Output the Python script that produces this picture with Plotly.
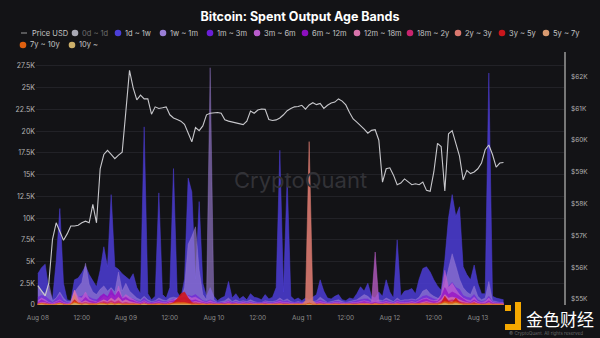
import pandas as pd
import plotly.graph_objects as go

# Hourly timeline
hours = pd.date_range("2024-08-08 00:00", periods=128, freq="h")

# BTC price, thousands of USD
price_usd_k = [
    55.42, 55.25, 55.10, 55.50, 56.88, 57.40, 57.15, 56.85, 57.05, 57.30, 57.30, 57.32, 57.40, 57.45, 57.40, 57.98,
    57.40, 59.10, 59.55, 59.68, 59.55, 59.42, 59.53, 59.62, 60.90, 62.20, 61.65, 61.27, 61.42, 61.30, 61.30, 60.82,
    61.05, 61.00, 61.02, 61.05, 60.80, 60.70, 60.65, 60.60, 60.50, 60.25, 59.95, 60.40, 60.30, 60.45, 60.80, 60.85,
    60.86, 60.87, 60.85, 60.64, 60.60, 60.57, 60.53, 60.50, 60.49, 60.60, 60.92, 60.85, 60.95, 60.98, 60.97, 60.65,
    60.62, 60.64, 60.70, 60.80, 60.93, 61.00, 61.05, 61.06, 61.10, 60.98, 61.11, 61.18, 61.12, 61.16, 61.00, 61.10,
    61.17, 61.20, 61.30, 61.23, 61.11, 60.87, 60.67, 60.57, 60.47, 60.35, 60.22, 60.31, 60.33, 60.00, 58.68, 59.10,
    59.13, 58.90, 58.60, 58.65, 58.78, 58.70, 58.60, 58.63, 58.60, 58.68, 58.42, 58.39, 59.00, 59.90, 59.80, 58.40,
    60.20, 60.30, 59.90, 59.50, 58.75, 59.05, 58.95, 59.00, 59.10, 59.28, 59.70, 59.85, 59.55, 59.15, 59.28, 59.30,
]

# Spent output volume per age band, thousands of BTC
band_1d_1w = [
    3.6, 4.3, 4.7, 1.7, 0.6, 5.0, 11.1, 2.5, 0.6, 0.5, 2.9, 3.1, 3.7, 4.5, 3.5, 2.8,
    2.1, 4.0, 6.7, 4.4, 12.7, 4.4, 4.1, 3.6, 3.3, 2.9, 3.6, 2.0, 1.3, 20.5, 1.3, 0.6,
    1.0, 12.9, 1.2, 0.8, 2.0, 15.7, 1.5, 0.8, 3.0, 14.6, 13.0, 3.0, 11.9, 2.5, 1.0, 2.0,
    1.0, 0.5, 0.8, 1.0, 2.7, 0.8, 1.3, 0.7, 1.0, 0.6, 1.3, 0.9, 0.8, 0.6, 1.2, 0.7,
    0.9, 2.0, 17.8, 1.5, 14.6, 1.0, 0.6, 0.8, 0.5, 0.8, 0.6, 0.9, 1.2, 2.9, 1.6, 0.8,
    0.7, 1.0, 1.2, 0.6, 0.5, 0.8, 0.7, 1.3, 2.1, 1.6, 2.5, 1.0, 0.8, 1.5, 1.0, 2.9,
    1.5, 0.8, 7.5, 1.0, 1.6, 1.7, 1.9, 1.3, 3.0, 4.2, 4.4, 3.8, 2.9, 2.2, 1.7, 5.2,
    10.0, 12.7, 10.2, 11.3, 4.4, 3.5, 2.9, 4.6, 2.5, 1.3, 1.3, 26.7, 1.0, 0.8, 0.7, 0.6,
]
band_1w_1m = [
    2.1, 1.6, 1.3, 2.5, 0.5, 0.8, 1.5, 0.8, 0.4, 0.4, 1.5, 2.0, 2.6, 4.8, 2.4, 1.5,
    1.2, 1.8, 2.2, 1.6, 2.0, 1.5, 3.8, 1.6, 2.5, 1.6, 1.2, 0.8, 0.6, 1.0, 0.6, 0.4,
    0.5, 0.8, 0.6, 0.5, 0.8, 0.9, 0.8, 0.6, 2.0, 7.0, 7.9, 9.0, 4.0, 1.2, 0.6, 27.3,
    0.6, 0.3, 0.4, 0.5, 0.8, 0.4, 0.6, 0.4, 0.5, 0.4, 0.6, 0.4, 0.3, 0.3, 0.5, 0.4,
    0.4, 0.5, 0.8, 0.5, 0.7, 0.4, 0.3, 0.4, 0.3, 0.4, 0.5, 0.4, 0.5, 0.9, 0.6, 0.3,
    0.4, 0.5, 0.6, 0.4, 0.3, 0.4, 0.5, 0.6, 0.9, 1.2, 1.0, 0.6, 0.4, 0.6, 0.5, 0.8,
    0.6, 0.4, 0.8, 0.5, 0.6, 0.6, 0.7, 0.6, 0.9, 1.6, 1.8, 1.3, 1.0, 0.8, 0.7, 2.5,
    4.0, 5.9, 4.5, 3.0, 2.0, 1.5, 1.2, 2.2, 1.0, 0.6, 0.8, 2.7, 0.5, 0.4, 0.3, 0.3,
]
band_1m_3m = [
    0.9, 1.1, 1.0, 0.6, 0.3, 0.7, 1.2, 0.5, 0.3, 0.3, 0.8, 0.9, 1.0, 1.3, 0.9, 0.7,
    0.6, 0.9, 1.2, 1.0, 1.4, 1.1, 1.3, 0.9, 1.0, 0.8, 0.7, 0.5, 0.4, 0.8, 0.4, 0.3,
    0.4, 0.6, 0.4, 0.4, 0.5, 0.7, 0.6, 0.6, 0.8, 1.1, 1.0, 1.2, 0.8, 0.5, 0.4, 0.6,
    0.4, 0.3, 0.3, 0.3, 0.5, 0.3, 0.4, 0.3, 0.4, 0.3, 0.4, 0.3, 0.3, 0.3, 0.4, 0.3,
    0.3, 0.4, 0.6, 0.4, 0.5, 0.3, 0.3, 0.3, 0.3, 0.3, 0.3, 0.3, 0.4, 0.6, 0.4, 0.3,
    0.3, 0.4, 0.4, 0.3, 0.3, 0.3, 0.4, 0.5, 0.6, 0.7, 0.7, 0.4, 0.5, 0.4, 0.4, 0.6,
    0.4, 0.3, 0.6, 0.4, 0.5, 0.5, 0.6, 0.5, 0.7, 1.0, 1.1, 0.9, 0.7, 0.6, 0.8, 1.6,
    2.2, 2.6, 2.0, 1.8, 1.1, 0.9, 0.8, 1.2, 0.6, 0.4, 0.5, 1.0, 0.4, 0.3, 0.3, 0.2,
]
band_3m_6m = [
    0.5, 0.8, 0.6, 0.3, 0.2, 0.4, 0.6, 0.3, 0.2, 0.3, 1.7, 0.9, 0.8, 1.5, 0.7, 0.5,
    0.4, 0.6, 1.0, 0.8, 1.2, 0.9, 2.2, 0.8, 1.2, 0.9, 0.6, 0.4, 0.3, 0.5, 0.3, 0.2,
    0.3, 0.4, 0.3, 0.3, 0.5, 0.6, 0.8, 1.0, 1.2, 1.0, 0.8, 0.9, 0.6, 0.4, 0.3, 0.5,
    0.3, 0.2, 0.2, 0.3, 0.4, 0.2, 0.3, 0.2, 0.3, 0.2, 0.3, 0.2, 0.2, 0.2, 0.3, 0.2,
    0.2, 0.3, 0.4, 0.3, 0.3, 0.2, 0.2, 0.2, 0.2, 0.3, 0.2, 0.2, 0.3, 0.4, 0.3, 0.2,
    0.2, 0.3, 0.3, 0.2, 0.2, 0.2, 0.3, 0.3, 0.4, 0.5, 0.4, 0.3, 6.1, 0.4, 0.3, 0.4,
    0.3, 0.2, 0.4, 0.3, 0.3, 0.3, 0.4, 0.3, 0.5, 0.7, 0.8, 0.6, 0.5, 0.6, 1.2, 4.0,
    2.0, 2.5, 1.8, 1.2, 0.8, 0.6, 0.5, 0.9, 0.4, 0.3, 0.4, 0.8, 0.3, 0.2, 0.2, 0.2,
]
band_6m_12m = [
    0.3, 0.6, 0.4, 0.2, 0.1, 0.3, 0.5, 0.2, 0.1, 0.2, 0.6, 0.5, 0.4, 0.9, 0.5, 0.4,
    0.3, 1.0, 1.3, 0.9, 1.8, 1.0, 1.6, 0.7, 0.9, 0.6, 0.5, 0.3, 0.2, 0.4, 0.2, 0.2,
    0.2, 0.3, 0.2, 0.2, 0.4, 0.5, 0.6, 0.8, 0.9, 0.7, 0.5, 0.6, 0.4, 0.3, 0.2, 0.3,
    0.2, 0.1, 0.2, 0.2, 0.3, 0.2, 0.2, 0.1, 0.2, 0.1, 0.2, 0.1, 0.1, 0.1, 0.2, 0.1,
    0.1, 0.2, 0.3, 0.2, 0.2, 0.1, 0.1, 0.1, 0.1, 0.2, 0.1, 0.2, 0.2, 0.3, 0.2, 0.1,
    0.1, 0.2, 0.2, 0.1, 0.1, 0.1, 0.2, 0.2, 0.3, 0.4, 0.3, 0.2, 0.3, 0.2, 0.2, 0.3,
    0.2, 0.1, 0.3, 0.2, 0.2, 0.2, 0.3, 0.2, 0.4, 0.6, 0.7, 0.5, 0.4, 0.4, 0.9, 2.0,
    1.2, 1.5, 1.3, 1.0, 0.6, 0.4, 0.3, 0.6, 0.3, 0.2, 0.2, 0.5, 0.2, 0.1, 0.1, 0.1,
]
band_12m_18m = [
    0.2, 0.3, 0.3, 0.1, 0.1, 0.2, 0.3, 0.1, 0.1, 0.2, 1.7, 0.6, 0.3, 0.5, 0.3, 0.2,
    0.2, 0.4, 0.6, 0.4, 0.8, 0.5, 0.9, 0.4, 0.6, 0.4, 0.3, 0.2, 0.1, 0.3, 0.1, 0.1,
    0.1, 0.2, 0.1, 0.1, 0.3, 0.3, 0.4, 0.5, 0.6, 0.4, 0.3, 0.4, 0.3, 0.2, 0.1, 0.2,
    0.1, 0.1, 0.1, 0.1, 0.2, 0.1, 0.1, 0.1, 0.1, 0.1, 0.1, 0.1, 0.1, 0.1, 0.1, 0.1,
    0.1, 0.1, 0.2, 0.1, 0.1, 0.1, 0.1, 0.1, 0.1, 0.1, 0.1, 0.1, 0.1, 0.2, 0.1, 0.1,
    0.1, 0.1, 0.1, 0.1, 0.1, 0.1, 0.1, 0.1, 0.2, 0.2, 0.2, 0.1, 0.1, 0.1, 0.1, 0.2,
    0.1, 0.1, 0.2, 0.1, 0.1, 0.1, 0.2, 0.1, 0.2, 0.3, 0.4, 0.3, 0.2, 0.3, 0.6, 1.2,
    0.8, 0.9, 0.8, 0.6, 0.4, 0.3, 0.2, 0.4, 0.2, 0.1, 0.1, 0.3, 0.1, 0.1, 0.1, 0.1,
]
band_18m_2y = [
    0.2, 0.2, 0.2, 0.1, 0.1, 0.1, 0.2, 0.1, 0.1, 0.1, 0.5, 0.3, 0.2, 0.3, 0.2, 0.2,
    0.1, 0.3, 0.4, 0.3, 0.5, 0.3, 0.5, 0.2, 0.3, 0.2, 0.2, 0.1, 0.1, 0.2, 0.1, 0.1,
    0.1, 0.1, 0.1, 0.1, 0.2, 0.2, 0.3, 0.4, 0.4, 0.3, 0.2, 0.3, 0.2, 0.1, 0.1, 0.1,
    0.1, 0.1, 0.1, 0.1, 0.1, 0.1, 0.1, 0.0, 0.1, 0.1, 0.1, 0.0, 0.1, 0.1, 0.1, 0.0,
    0.1, 0.1, 0.1, 0.1, 0.1, 0.0, 0.1, 0.1, 0.0, 0.1, 0.2, 0.1, 0.1, 0.1, 0.1, 0.0,
    0.1, 0.1, 0.1, 0.0, 0.1, 0.1, 0.1, 0.1, 0.1, 0.1, 0.1, 0.1, 0.2, 0.1, 0.1, 0.1,
    0.1, 0.1, 0.1, 0.1, 0.1, 0.1, 0.1, 0.1, 0.2, 0.2, 0.3, 0.2, 0.2, 0.2, 0.4, 0.8,
    0.5, 0.6, 0.5, 0.4, 0.3, 0.2, 0.2, 0.3, 0.1, 0.1, 0.1, 0.2, 0.1, 0.1, 0.1, 0.1,
]
band_2y_3y = [
    0.1, 0.1, 0.1, 0.1, 0.0, 0.1, 0.2, 0.1, 0.0, 0.1, 1.2, 0.3, 0.1, 0.2, 0.1, 0.1,
    0.1, 0.2, 0.2, 0.1, 0.3, 0.1, 0.2, 0.1, 0.1, 0.1, 0.1, 0.1, 0.0, 0.1, 0.0, 0.0,
    0.1, 0.1, 0.1, 0.0, 0.1, 0.1, 0.2, 0.3, 0.3, 0.2, 0.1, 0.1, 0.1, 0.1, 0.0, 0.1,
    0.0, 0.0, 0.1, 0.0, 0.1, 0.0, 0.1, 0.0, 0.1, 0.0, 0.1, 0.0, 0.0, 0.1, 0.0, 0.0,
    0.0, 0.1, 0.1, 0.0, 0.1, 0.0, 0.0, 0.1, 0.0, 0.5, 18.8, 0.5, 0.1, 0.1, 0.0, 0.1,
    0.0, 0.1, 0.1, 0.0, 0.0, 0.1, 0.0, 0.1, 0.1, 0.1, 0.1, 0.0, 0.2, 0.1, 0.0, 0.1,
    0.1, 0.0, 0.1, 0.0, 0.1, 0.1, 0.1, 0.1, 0.1, 0.2, 0.2, 0.1, 0.1, 0.1, 0.2, 0.5,
    0.3, 0.4, 0.3, 0.2, 0.1, 0.1, 0.1, 0.2, 0.1, 0.0, 0.1, 0.2, 0.0, 0.0, 0.0, 0.0,
]
band_3y_5y = [
    0.1, 0.1, 0.1, 0.0, 0.0, 0.1, 0.1, 0.0, 0.0, 0.1, 0.6, 0.2, 0.1, 0.1, 0.1, 0.1,
    0.1, 0.1, 0.2, 0.1, 0.2, 0.1, 0.1, 0.1, 0.1, 0.1, 0.1, 0.0, 0.0, 0.1, 0.0, 0.0,
    0.1, 0.1, 0.1, 0.0, 0.1, 0.3, 0.7, 1.3, 1.5, 0.8, 0.3, 0.1, 0.1, 0.1, 0.0, 0.1,
    0.0, 0.0, 0.1, 0.0, 0.0, 0.0, 0.1, 0.0, 0.0, 0.0, 0.1, 0.0, 0.0, 0.1, 0.0, 0.0,
    0.0, 0.0, 0.1, 0.0, 0.0, 0.0, 0.0, 0.1, 0.0, 0.0, 0.2, 0.0, 0.0, 0.1, 0.0, 0.0,
    0.0, 0.1, 0.0, 0.0, 0.0, 0.1, 0.0, 0.0, 0.1, 0.1, 0.0, 0.0, 0.1, 0.0, 0.0, 0.1,
    0.0, 0.0, 0.1, 0.0, 0.0, 0.1, 0.1, 0.1, 0.1, 0.1, 0.1, 0.1, 0.1, 0.1, 0.2, 1.0,
    0.4, 0.3, 0.8, 0.3, 0.1, 0.1, 0.1, 0.2, 0.1, 0.0, 0.0, 0.1, 0.0, 0.0, 0.0, 0.0,
]
band_5y_7y = [
    0.1, 0.1, 0.1, 0.0, 0.0, 0.1, 0.1, 0.0, 0.0, 0.1, 0.3, 0.1, 0.1, 0.1, 0.1, 0.1,
    0.1, 0.1, 0.1, 0.1, 0.2, 0.1, 0.1, 0.1, 0.1, 0.1, 0.1, 0.0, 0.0, 0.1, 0.0, 0.0,
    0.0, 0.1, 0.0, 0.0, 0.1, 0.1, 0.2, 0.2, 0.2, 0.1, 0.1, 0.1, 0.0, 0.1, 0.0, 0.0,
    0.0, 0.0, 0.1, 0.0, 0.0, 0.0, 0.1, 0.0, 0.0, 0.0, 0.1, 0.0, 0.0, 0.1, 0.0, 0.0,
    0.0, 0.0, 0.1, 0.0, 0.0, 0.0, 0.0, 0.1, 0.0, 0.0, 0.1, 0.0, 0.0, 0.1, 0.0, 0.0,
    0.0, 0.1, 0.0, 0.0, 0.0, 0.1, 0.0, 0.0, 0.1, 0.1, 0.0, 0.0, 0.1, 0.0, 0.0, 0.1,
    0.0, 0.0, 0.1, 0.0, 0.0, 0.1, 0.1, 0.1, 0.1, 0.1, 0.1, 0.1, 0.1, 0.1, 0.1, 0.3,
    0.2, 0.2, 0.3, 0.2, 0.1, 0.1, 0.1, 0.1, 0.1, 0.0, 0.0, 0.1, 0.0, 0.0, 0.0, 0.0,
]
band_7y_10y = [
    0.1, 0.2, 0.1, 0.1, 0.0, 0.1, 0.2, 0.1, 0.0, 0.1, 0.4, 0.2, 0.1, 0.1, 0.1, 0.1,
    0.1, 0.2, 0.2, 0.1, 0.2, 0.1, 0.2, 0.1, 0.1, 0.1, 0.1, 0.1, 0.1, 0.1, 0.1, 0.1,
    0.1, 0.1, 0.1, 0.1, 0.1, 0.2, 0.3, 0.3, 0.3, 0.2, 0.1, 0.1, 0.1, 0.1, 0.1, 0.1,
    0.1, 0.1, 0.1, 0.1, 0.1, 0.1, 0.1, 0.1, 0.1, 0.1, 0.1, 0.1, 0.1, 0.1, 0.1, 0.1,
    0.1, 0.1, 0.1, 0.1, 0.1, 0.1, 0.1, 0.1, 0.1, 0.1, 0.2, 0.1, 0.1, 0.1, 0.1, 0.1,
    0.1, 0.1, 0.1, 0.1, 0.1, 0.1, 0.1, 0.1, 0.1, 0.1, 0.1, 0.1, 0.1, 0.1, 0.1, 0.1,
    0.1, 0.1, 0.1, 0.1, 0.1, 0.1, 0.1, 0.1, 0.1, 0.1, 0.1, 0.1, 0.1, 0.1, 0.2, 0.4,
    0.3, 0.3, 0.4, 0.2, 0.1, 0.1, 0.1, 0.1, 0.1, 0.1, 0.1, 0.1, 0.1, 0.1, 0.1, 0.1,
]
band_10y_plus = [
    0.0, 0.1, 0.0, 0.0, 0.0, 0.0, 0.1, 0.0, 0.0, 0.0, 0.2, 0.1, 0.0, 0.1, 0.0, 0.0,
    0.0, 0.1, 0.1, 0.0, 0.1, 0.0, 0.1, 0.0, 0.0, 0.0, 0.0, 0.0, 0.0, 0.1, 0.0, 0.0,
    0.0, 0.0, 0.0, 0.0, 0.0, 0.1, 0.1, 0.1, 0.1, 0.1, 0.0, 0.0, 0.0, 0.0, 0.0, 0.0,
    0.0, 0.0, 0.0, 0.0, 0.0, 0.0, 0.0, 0.0, 0.0, 0.0, 0.0, 0.0, 0.0, 0.0, 0.0, 0.0,
    0.0, 0.0, 0.0, 0.0, 0.0, 0.0, 0.0, 0.0, 0.0, 0.0, 0.1, 0.0, 0.0, 0.0, 0.0, 0.0,
    0.0, 0.0, 0.0, 0.0, 0.0, 0.0, 0.0, 0.0, 0.0, 0.0, 0.0, 0.0, 0.0, 0.0, 0.0, 0.0,
    0.0, 0.0, 0.0, 0.0, 0.0, 0.0, 0.0, 0.0, 0.0, 0.0, 0.0, 0.0, 0.0, 0.0, 0.1, 0.2,
    0.1, 0.1, 0.2, 0.1, 0.0, 0.0, 0.0, 0.0, 0.0, 0.0, 0.0, 0.0, 0.0, 0.0, 0.0, 0.0,
]

band_names = ["0d ~ 1d", "1d ~ 1w", "1w ~ 1m", "1m ~ 3m", "3m ~ 6m", "6m ~ 12m", "12m ~ 18m",
              "18m ~ 2y", "2y ~ 3y", "3y ~ 5y", "5y ~ 7y", "7y ~ 10y", "10y ~"]
band_values = [None, band_1d_1w, band_1w_1m, band_1m_3m, band_3m_6m, band_6m_12m, band_12m_18m,
               band_18m_2y, band_2y_3y, band_3y_5y, band_5y_7y, band_7y_10y, band_10y_plus]
band_colors = ["#6f6f78", "#4b3fd8", "#9a7ed6", "#6b1fd8", "#b95ccc", "#8c0fbf", "#d873ab",
               "#c9246e", "#d9776e", "#c8161c", "#d99a70", "#e0600f", "#cdb06a"]
band_fills = [None, "rgba(76,60,212,0.86)", "rgba(158,128,214,0.62)", "rgba(112,36,216,0.70)",
              "rgba(192,96,206,0.75)", "rgba(150,20,196,0.80)", "rgba(218,116,172,0.80)",
              "rgba(202,36,110,0.85)", "rgba(218,122,112,0.90)", "rgba(206,22,28,0.90)",
              "rgba(218,154,112,0.90)", "rgba(224,96,15,0.90)", "rgba(205,176,106,0.90)"]

left_tick_vals = [0, 2.5, 5, 7.5, 10, 12.5, 15, 17.5, 20, 22.5, 25, 27.5]
left_tick_text = ["0", "2.5K", "5K", "7.5K", "10K", "12.5K", "15K", "17.5K", "20K", "22.5K", "25K", "27.5K"]
right_tick_vals = [55, 56, 57, 58, 59, 60, 61, 62]
right_tick_text = ["$55K", "$56K", "$57K", "$58K", "$59K", "$60K", "$61K", "$62K"]
x_tick_vals = pd.date_range("2024-08-08 00:00", "2024-08-13 00:00", freq="12h")
x_tick_text = ["Aug 08", "12:00", "Aug 09", "12:00", "Aug 10", "12:00", "Aug 11", "12:00",
               "Aug 12", "12:00", "Aug 13"]

for vals in band_values[1:] + [price_usd_k]:
    assert len(vals) == len(hours)

BG = "#131316"
FONT = "Inter, Roboto, Arial, sans-serif"

fig = go.Figure()

# Age-band areas, each filled to zero and overlapping
for name, vals, col, fillc in zip(band_names, band_values, band_colors, band_fills):
    if vals is None:
        continue
    fig.add_trace(go.Scatter(
        x=hours, y=vals, name=name, mode="lines", fill="tozeroy",
        line=dict(color=fillc, width=0.6), fillcolor=fillc,
        showlegend=False, yaxis="y",
    ))

# Price on the secondary axis
fig.add_trace(go.Scatter(
    x=hours, y=price_usd_k, name="Price USD", mode="lines",
    line=dict(color="#c8c8cc", width=1.1), showlegend=False, yaxis="y2",
))

# Plot area geometry in pixels (for placing header/legend items)
W, H = 600, 338
ML, MR, MT, MB = 36, 36, 52, 33
PW, PH = W - ML - MR, H - MT - MB


def px(xp):
    return (xp - ML) / PW


def py(yp):
    return (H - MB - yp) / PH


shapes = []
annotations = []

# Custom legend rows
legend_row1 = 33
legend_row2 = 45
shapes.append(dict(type="line", xref="paper", yref="paper", x0=px(21), x1=px(27),
                   y0=py(legend_row1), y1=py(legend_row1), line=dict(color="#9a9a9a", width=1)))
annotations.append(dict(text="Price USD", x=px(30), y=py(legend_row1), xref="paper", yref="paper",
                        xanchor="left", yanchor="middle", showarrow=False,
                        font=dict(size=7.5, color="#c4c4c4", family=FONT)))
legend_pos = [(75, legend_row1), (118, legend_row1), (163, legend_row1), (210, legend_row1),
              (257, legend_row1), (305, legend_row1), (357, legend_row1), (410, legend_row1),
              (458, legend_row1), (502, legend_row1), (546, legend_row1),
              (23, legend_row2), (72, legend_row2)]
for (cx, cy), name, col in zip(legend_pos, band_names, band_colors):
    r = 3.3
    shapes.append(dict(type="circle", xref="paper", yref="paper",
                       x0=px(cx - r), x1=px(cx + r), y0=py(cy + r), y1=py(cy - r),
                       fillcolor=("#a8a8b4" if name == "0d ~ 1d" else col), line=dict(width=0)))
    annotations.append(dict(text=name, x=px(cx + 5), y=py(cy), xref="paper", yref="paper",
                            xanchor="left", yanchor="middle", showarrow=False,
                            font=dict(size=7.5, color=("#6c6c6c" if name == "0d ~ 1d" else "#c4c4c4"),
                                      family=FONT)))

# Watermark
annotations.append(dict(text="CryptoQuant", x=0.5, y=py(180), xref="paper", yref="paper",
                        showarrow=False, font=dict(size=22, color="#323237", family=FONT)))

# Corner brand mark
shapes.append(dict(type="rect", xref="paper", yref="paper", x0=px(503), x1=px(600),
                   y0=py(338), y1=py(309), fillcolor=BG, line=dict(width=0), layer="above"))
logo_col = "#f5a800"
shapes.append(dict(type="rect", xref="paper", yref="paper", x0=px(505), x1=px(511),
                   y0=py(311), y1=py(305), fillcolor=logo_col, line=dict(width=0), layer="above"))
shapes.append(dict(type="rect", xref="paper", yref="paper", x0=px(515), x1=px(521),
                   y0=py(330), y1=py(302), fillcolor=logo_col, line=dict(width=0), layer="above"))
shapes.append(dict(type="rect", xref="paper", yref="paper", x0=px(505), x1=px(521),
                   y0=py(330), y1=py(324), fillcolor=logo_col, line=dict(width=0), layer="above"))
annotations.append(dict(text="金色财经", x=px(560), y=py(318), xref="paper", yref="paper",
                        showarrow=False, xanchor="center", yanchor="middle",
                        font=dict(size=17, color="#ffffff", family="Noto Sans CJK SC")))
annotations.append(dict(text="© CryptoQuant. All rights reserved", x=px(546), y=py(333),
                        xref="paper", yref="paper", showarrow=False, xanchor="center", yanchor="middle",
                        font=dict(size=4.5, color="#6a6a6a", family=FONT)))

fig.update_layout(
    width=W, height=H,
    margin=dict(l=ML, r=MR, t=MT, b=MB),
    paper_bgcolor=BG, plot_bgcolor=BG,
    title=dict(text="<b>Bitcoin: Spent Output Age Bands</b>", x=0.5, xanchor="center",
               y=1 - 17 / H, yanchor="middle",
               font=dict(size=12.5, color="#ffffff", family=FONT)),
    showlegend=False,
    xaxis=dict(
        range=["2024-08-07 23:30", "2024-08-13 23:30"],
        tickvals=x_tick_vals, ticktext=x_tick_text,
        showgrid=False, zeroline=False, showline=False, ticks="",
        ticklabelstandoff=7,
        tickfont=dict(size=6.5, color="#8c8c8c", family=FONT),
    ),
    yaxis=dict(
        range=[0, 29.11], tickvals=left_tick_vals, ticktext=left_tick_text,
        showgrid=True, gridcolor="#222227", gridwidth=1, zeroline=False, showline=False, ticks="",
        tickfont=dict(size=7, color="#b4b4b4", family=FONT),
    ),
    yaxis2=dict(
        range=[54.811, 62.777], tickvals=right_tick_vals, ticktext=right_tick_text,
        overlaying="y", side="right", showgrid=False, zeroline=False,
        showline=True, linecolor="#777777", linewidth=1.5, ticks="",
        ticklabelstandoff=4,
        tickfont=dict(size=6.5, color="#b4b4b4", family=FONT),
    ),
    shapes=shapes,
    annotations=annotations,
)

fig.write_html("out.html")
